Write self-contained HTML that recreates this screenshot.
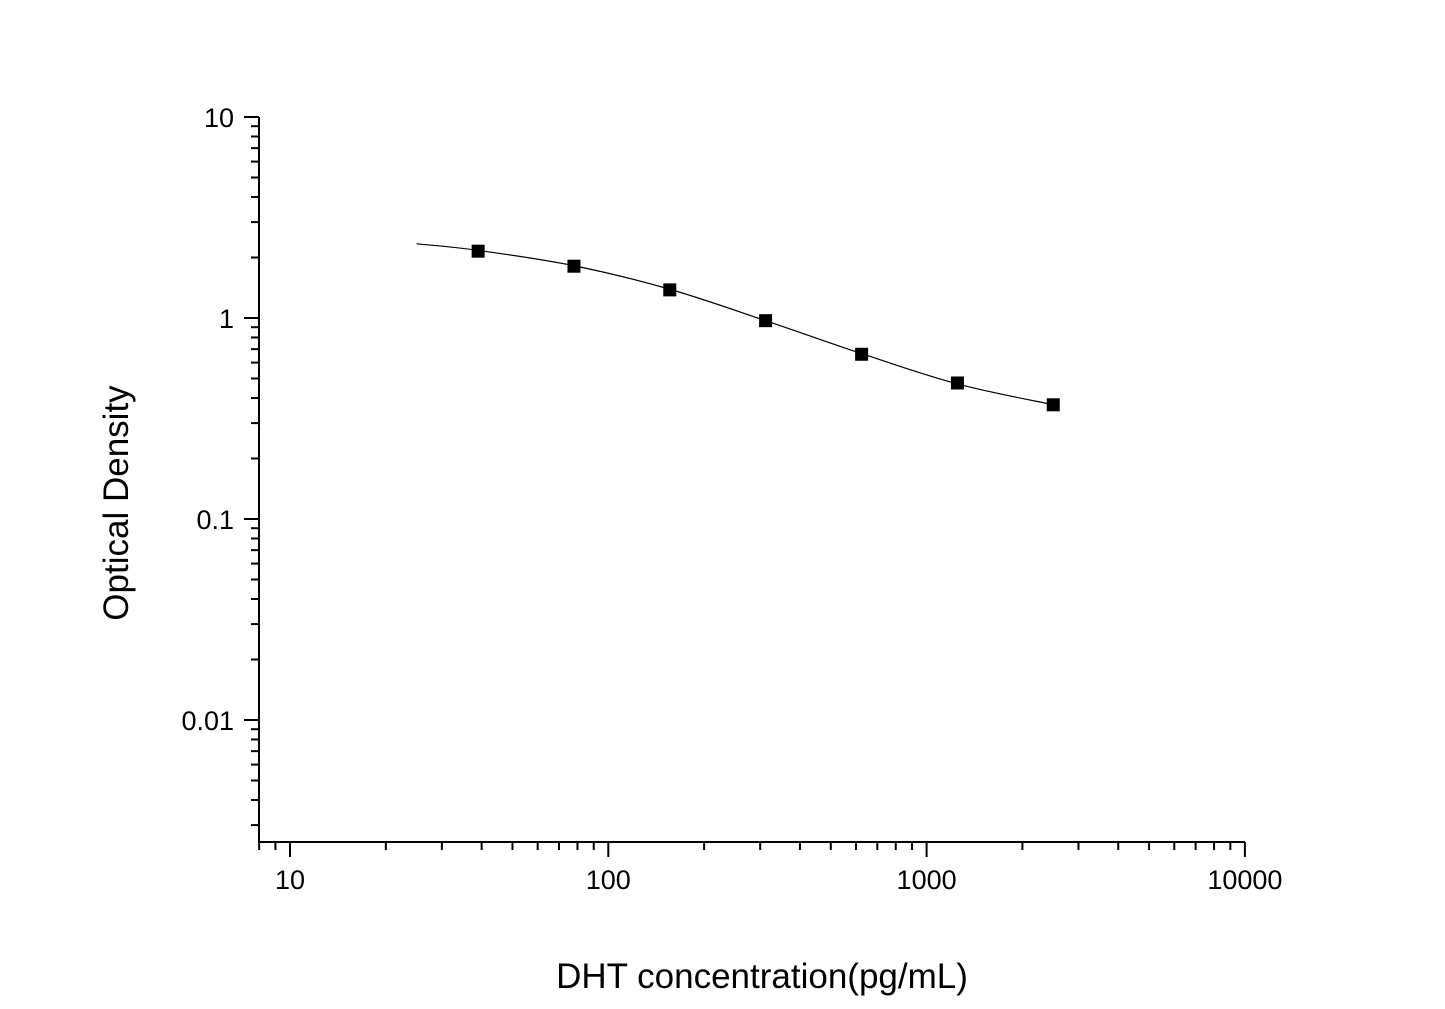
<!DOCTYPE html>
<html><head><meta charset="utf-8"><style>body{margin:0;background:#fff}svg{display:block}</style></head>
<body>
<svg id="chart" width="1445" height="1009" xmlns="http://www.w3.org/2000/svg" font-family="Liberation Sans, Arial, sans-serif">
<g id="axes"></g>
<g id="marks"></g>
<text x="762" y="988" font-size="35" text-anchor="middle">DHT concentration(pg/mL)</text>
<text transform="translate(128,503) rotate(-90)" font-size="35" text-anchor="middle">Optical Density</text>
</svg>
<script>
const concentrations = [39, 78, 156, 312, 625, 1250, 2500];
const odValues = [2.15, 1.81, 1.38, 0.97, 0.66, 0.475, 0.37];
const curveX = [25, 39, 78, 156, 312, 625, 1250, 2500];
const curveY = [2.34, 2.17, 1.82, 1.39, 0.97, 0.665, 0.47, 0.37];
const xTickLabels = ["10", "100", "1000", "10000"];
const yTickLabels = ["0.01", "0.1", "1", "10"];

const NS = "http://www.w3.org/2000/svg";
const xL = 290, xPer = 318.3, yTop = 117, yPer = 201;
const X = v => xL + (Math.log10(v) - 1) * xPer;
const Y = v => yTop + (1 - Math.log10(v)) * yPer;
const axisX = 259, axisY = 842, xEnd = 1245, yEnd = 117;
function el(tag, attrs, parent) { const e = document.createElementNS(NS, tag); for (const k in attrs) e.setAttribute(k, attrs[k]); parent.appendChild(e); return e; }
const axes = document.getElementById('axes'), marks = document.getElementById('marks');

const ya = el('line', {x1: axisX, y1: yEnd, x2: axisX, y2: axisY, stroke: '#000', 'stroke-width': 2}, axes);
 
const xa = el('line', {x1: axisX - 1, y1: axisY, x2: xEnd, y2: axisY, stroke: '#000', 'stroke-width': 2}, axes);
 

// x ticks
for (let d = 0; d <= 4; d++) {
  for (let m = 1; m <= 9; m++) {
    if (d === 4 && m > 1) break;
    const v = Math.pow(10, d) * m;
    const px = X(v);
    if (px < axisX - 0.5) continue;
    const t = el('line', {x1: px, y1: axisY, x2: px, y2: axisY + (m === 1 ? 15 : 8), stroke: '#000', 'stroke-width': 2}, axes);
     
  }
}
xTickLabels.forEach((lab, i) => {
  const t = el('text', {x: X(Math.pow(10, i + 1)), y: 889, 'font-size': 27, 'text-anchor': 'middle'}, axes);
  t.textContent = lab;  
});
// y ticks
for (let e = -3; e <= 1; e++) {
  for (let m = 1; m <= 9; m++) {
    const v = Math.pow(10, e) * m;
    const py = Y(v);
    if (py > axisY + 0.5 || py < yEnd - 0.5) continue;
    const t = el('line', {x1: axisX - (m === 1 ? 15 : 8), y1: py, x2: axisX, y2: py, stroke: '#000', 'stroke-width': 2}, axes);
     
  }
}
yTickLabels.forEach((lab, i) => {
  const t = el('text', {x: 234, y: Y(Math.pow(10, i - 2)) + 10, 'font-size': 27, 'text-anchor': 'end'}, axes);
  t.textContent = lab;  
});

// curve
const pts = curveX.map((x, i) => [X(x), Y(curveY[i])]);
let d = `M${pts[0][0]},${pts[0][1]}`;
for (let i = 0; i < pts.length - 1; i++) {
  const p0 = pts[Math.max(0, i - 1)], p1 = pts[i], p2 = pts[i + 1], p3 = pts[Math.min(pts.length - 1, i + 2)];
  const c1 = [p1[0] + (p2[0] - p0[0]) / 6, p1[1] + (p2[1] - p0[1]) / 6];
  const c2 = [p2[0] - (p3[0] - p1[0]) / 6, p2[1] - (p3[1] - p1[1]) / 6];
  d += ` C${c1[0]},${c1[1]} ${c2[0]},${c2[1]} ${p2[0]},${p2[1]}`;
}
const curve = el('path', {d, fill: 'none', stroke: '#000', 'stroke-width': 1.2}, marks);
 

concentrations.forEach((c, i) => {
  const r = el('rect', {x: X(c) - 6.5, y: Y(odValues[i]) - 6.5, width: 13, height: 13, fill: '#000'}, marks);
   
});
</script>
</body></html>
